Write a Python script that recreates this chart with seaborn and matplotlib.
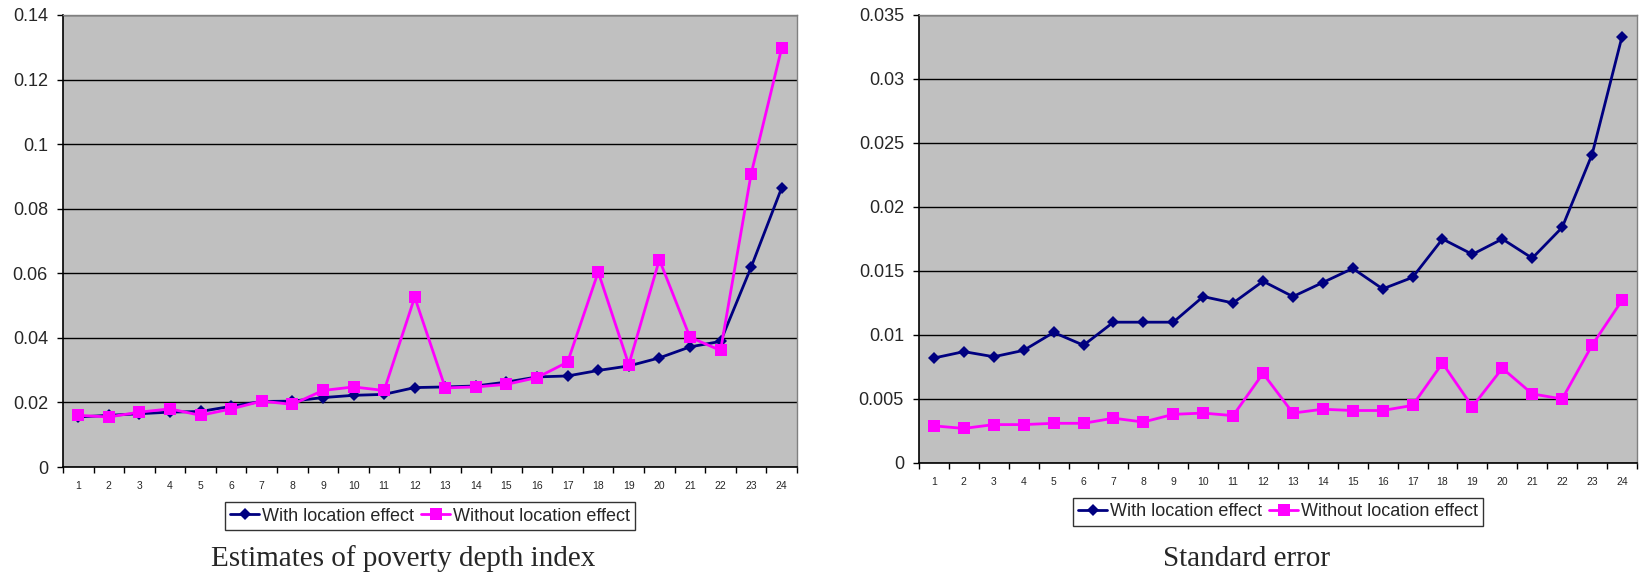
import matplotlib
matplotlib.use("Agg")
import matplotlib.pyplot as plt
from matplotlib import font_manager as fm
from matplotlib.ticker import FixedLocator, MultipleLocator, FuncFormatter
import seaborn as sns
import pandas as pd

# Areas 1..24
areas = list(range(1, 25))

# Poverty depth index estimates
depth_with = [0.0155, 0.0160, 0.0165, 0.0170, 0.0172, 0.0188, 0.0203, 0.0204,
              0.0215, 0.0222, 0.0225, 0.0246, 0.0248, 0.0251, 0.0263, 0.0279,
              0.0282, 0.0299, 0.0313, 0.0338, 0.0372, 0.0389, 0.0619, 0.0865]
depth_without = [0.0160, 0.0155, 0.0170, 0.0180, 0.0160, 0.0180, 0.0204, 0.0194,
                 0.0237, 0.0248, 0.0237, 0.0526, 0.0245, 0.0248, 0.0256, 0.0277,
                 0.0325, 0.0604, 0.0317, 0.0642, 0.0402, 0.0361, 0.0908, 0.1298]

# Standard errors of the estimates
se_with = [0.0082, 0.0087, 0.0083, 0.0088, 0.0102, 0.0092, 0.0110, 0.0110,
           0.0110, 0.0130, 0.0125, 0.0142, 0.0130, 0.0141, 0.0152, 0.0136,
           0.0145, 0.0175, 0.0163, 0.0175, 0.0160, 0.0184, 0.0241, 0.0333]
se_without = [0.0029, 0.0027, 0.0030, 0.0030, 0.0031, 0.0031, 0.0035, 0.0032,
              0.0038, 0.0039, 0.0037, 0.0070, 0.0039, 0.0042, 0.0041, 0.0041,
              0.0045, 0.0078, 0.0044, 0.0074, 0.0054, 0.0050, 0.0092, 0.0127]

series_names = ["With location effect", "Without location effect"]
panel_titles = ["Estimates of poverty depth index", "Standard error"]

sns.set_theme(style="white")

installed = {f.name for f in fm.fontManager.ttflist}
narrow = "Liberation Sans Narrow" if "Liberation Sans Narrow" in installed else "Liberation Sans"
plt.rcParams["font.family"] = ["Liberation Sans", "DejaVu Sans"]

NAVY = "#000080"
MAGENTA = "#FF00FF"
PANEL_BG = "#C0C0C0"

W, H = 1644, 574
fig = plt.figure(figsize=(W / 100, H / 100), dpi=100)
ax1 = fig.add_axes([0.0383, 0.1864, 0.4465, 0.7875])
ax2 = fig.add_axes([0.5590, 0.1934, 0.4367, 0.7805])


def draw_panel(ax, with_vals, without_vals, ymax, ystep, fmt, title, title_x):
    df = pd.DataFrame({
        "area": areas * 2,
        "value": with_vals + without_vals,
        "series": [series_names[0]] * len(areas) + [series_names[1]] * len(areas),
    })
    sns.lineplot(data=df, x="area", y="value", hue="series", style="series",
                 palette={series_names[0]: NAVY, series_names[1]: MAGENTA},
                 markers={series_names[0]: "D", series_names[1]: "s"},
                 dashes=False, linewidth=2.0, markeredgewidth=0,
                 ax=ax, legend=True)
    # smaller diamonds for the first series, larger squares for the second
    for ln in ax.get_lines():
        if ln.get_marker() == "D":
            ln.set_markersize(6)
        else:
            ln.set_markersize(8.5)
    ax.set_facecolor(PANEL_BG)
    ax.set_xlim(0.5, 24.5)
    ax.set_ylim(0, ymax)
    ax.yaxis.set_major_locator(MultipleLocator(ystep))
    ax.yaxis.set_major_formatter(FuncFormatter(fmt))
    ax.grid(axis="y", color="black", linewidth=1.0)
    ax.grid(axis="x", visible=False)
    ax.set_axisbelow(True)
    ax.set_xticks(areas)
    ax.set_xticklabels([str(a) for a in areas], fontsize=7.5, family=narrow)
    ax.xaxis.set_minor_locator(FixedLocator([a + 0.5 for a in range(0, 25)]))
    ax.tick_params(axis="x", which="major", length=0, pad=10)
    ax.tick_params(axis="x", which="minor", length=4, width=1, color="black",
                   direction="out", bottom=True)
    ax.tick_params(axis="y", which="major", length=4.3, width=1, color="black",
                   direction="out", left=True, labelsize=13, pad=6.5)
    for side in ("left", "bottom"):
        ax.spines[side].set_color("black")
        ax.spines[side].set_linewidth(1.2)
    for side in ("top", "right"):
        ax.spines[side].set_color("#808080")
        ax.spines[side].set_linewidth(1.0)
    ax.set_xlabel("")
    ax.set_ylabel("")
    handles, labels = ax.get_legend_handles_labels()
    leg = ax.legend(handles, labels, loc="upper center", bbox_to_anchor=(0.5, -0.078),
                    ncol=2, frameon=True, fancybox=False, shadow=False,
                    handlelength=1.6, handletextpad=0.15, columnspacing=0.4,
                    borderpad=0.3, borderaxespad=0,
                    prop={"family": narrow, "size": 13})
    leg.get_frame().set_edgecolor("black")
    leg.get_frame().set_linewidth(1.0)
    leg.get_frame().set_facecolor("white")
    fig.text(title_x / W, 1 - 566 / H, title, ha="center", va="baseline",
             family=["Liberation Serif", "DejaVu Serif"], fontsize=21)


def fmt_depth(v, _):
    if abs(v) < 1e-12:
        return "0"
    return f"{v:.2f}".rstrip("0").rstrip(".")


def fmt_se(v, _):
    if abs(v) < 1e-12:
        return "0"
    return f"{v:.3f}".rstrip("0").rstrip(".")


draw_panel(ax1, depth_with, depth_without, 0.14, 0.02, fmt_depth, panel_titles[0], 403)
draw_panel(ax2, se_with, se_without, 0.035, 0.005, fmt_se, panel_titles[1], 1246)

fig.savefig("out.png", dpi=100, facecolor="white")
